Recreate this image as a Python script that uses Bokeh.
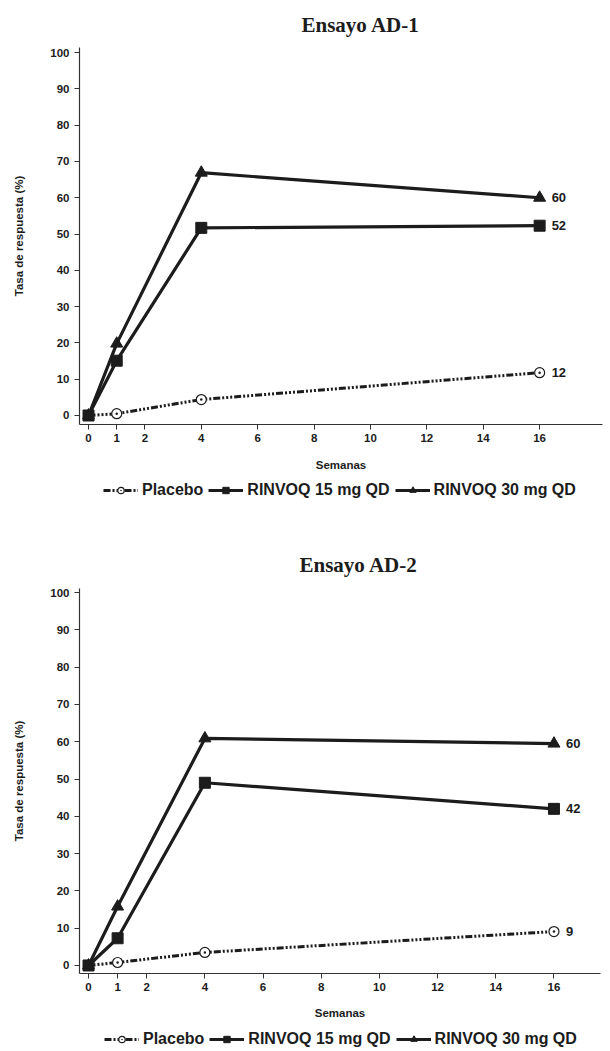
from bokeh.plotting import figure
from bokeh.layouts import column
from bokeh.models import FixedTicker, Legend, LegendItem, Range1d
from bokeh.core.properties import value
from bokeh.embed import file_html
from bokeh.resources import INLINE

weeks = [0, 1, 4, 16]
x_ticks = [0, 1, 2, 4, 6, 8, 10, 12, 14, 16]
y_ticks = [0, 10, 20, 30, 40, 50, 60, 70, 80, 90, 100]

ad1_placebo = [0, 0.5, 4.4, 11.8]
ad1_15mg = [0, 15.1, 51.7, 52.3]
ad1_30mg = [0, 19.8, 66.9, 60.0]
ad1_end_labels = ["12", "52", "60"]

ad2_placebo = [0, 0.8, 3.5, 9.1]
ad2_15mg = [0, 7.3, 49.0, 42.0]
ad2_30mg = [0, 15.8, 60.9, 59.5]
ad2_end_labels = ["9", "42", "60"]

series_names = ["Placebo", "RINVOQ 15 mg QD", "RINVOQ 30 mg QD"]

SANS = "Liberation Sans"
SERIF = "Liberation Serif"
INK = "#1c1c1c"

PLC_STYLE = dict(line_color=INK, line_width=3, line_dash="7 2 2 2 2 2 2 2")
PLC_MARK = dict(marker="circle_dot", size=10, fill_color="white", line_color=INK, line_width=1.2)
R15_STYLE = dict(line_color=INK, line_width=3.2)
R15_MARK = dict(marker="square", size=11, fill_color=INK, line_color=INK)
R30_STYLE = dict(line_color=INK, line_width=3.2)
R30_MARK = dict(marker="triangle", size=12, fill_color=INK, line_color=INK)


def draw_series(p, plc, r15, r30):
    l1 = p.line(weeks, plc, **PLC_STYLE)
    m1 = p.scatter(weeks, plc, **PLC_MARK)
    l2 = p.line(weeks, r15, **R15_STYLE)
    m2 = p.scatter(weeks, r15, **R15_MARK)
    l3 = p.line(weeks, r30, **R30_STYLE)
    m3 = p.scatter(weeks, r30, **R30_MARK)
    return [[l1, m1], [l2, m2], [l3, m3]]


def make(title, plc, r15, r30, end_labels, top, left, fw, fh, bottom, xr, yr,
         title_offset, title_standoff, xlabel_standoff):
    p = figure(frame_width=fw, frame_height=fh, x_range=Range1d(*xr), y_range=Range1d(*yr),
               output_backend="svg", toolbar_location=None,
               min_border_left=left, min_border_right=610 - left - fw,
               min_border_top=top, min_border_bottom=bottom)
    p.outline_line_color = None
    p.grid.grid_line_color = None
    p.title.text = title
    p.title.align = "left"
    p.title.offset = title_offset
    p.title.standoff = title_standoff
    p.title.text_font = SERIF
    p.title.text_font_style = "bold"
    p.title.text_font_size = "21px"
    p.title.text_color = INK

    for ax in (p.xaxis[0], p.yaxis[0]):
        ax.axis_line_color = "#333333"
        ax.axis_line_width = 1.2
        ax.major_tick_line_color = "#333333"
        ax.major_tick_in = 0
        ax.major_tick_out = 5
        ax.minor_tick_line_color = None
        ax.major_label_text_font = SANS
        ax.major_label_text_font_style = "bold"
        ax.major_label_text_font_size = "11.5px"
        ax.major_label_text_color = INK
        ax.axis_label_text_font = SANS
        ax.axis_label_text_font_style = "bold"
        ax.axis_label_text_font_size = "11.5px"
        ax.axis_label_text_color = INK
    p.xaxis.ticker = FixedTicker(ticks=x_ticks)
    p.yaxis.ticker = FixedTicker(ticks=y_ticks)
    p.xaxis.axis_label = "Semanas"
    p.yaxis.axis_label = "Tasa de respuesta (%)"
    p.yaxis.major_label_standoff = 5
    p.xaxis.major_label_standoff = 4
    p.yaxis.axis_label_standoff = 22
    p.xaxis.axis_label_standoff = xlabel_standoff

    draw_series(p, plc, r15, r30)

    p.text(x=[weeks[-1]] * 3, y=[plc[-1], r15[-1], r30[-1]], text=end_labels,
           x_offset=12, text_baseline="middle", text_align="left",
           text_font=value(SANS), text_font_style="bold", text_font_size="13px",
           text_color=INK)
    return p


def legend_strip(height, plc, r15, r30, loc):
    # legend-only strip: the series are drawn outside its visible range
    q = figure(frame_width=610, frame_height=height,
               x_range=Range1d(100, 101), y_range=Range1d(100, 101),
               output_backend="svg", toolbar_location=None,
               x_axis_location=None, y_axis_location=None,
               min_border_left=0, min_border_right=0, min_border_top=0, min_border_bottom=0)
    q.outline_line_color = None
    q.grid.grid_line_color = None
    rs = draw_series(q, plc, r15, r30)
    legend = Legend(items=[LegendItem(label=n, renderers=r) for n, r in zip(series_names, rs)],
                    orientation="horizontal", location=loc)
    legend.label_text_font = SANS
    legend.label_text_font_style = "bold"
    legend.label_text_font_size = "16px"
    legend.label_text_color = INK
    legend.glyph_width = 35
    legend.glyph_height = 16
    legend.label_height = 16
    legend.label_standoff = 4
    legend.spacing = 5
    legend.padding = 3
    legend.margin = 0
    legend.border_line_color = None
    legend.background_fill_alpha = 0
    q.add_layout(legend, "center")
    return q


p1 = make("Ensayo AD-1", ad1_placebo, ad1_15mg, ad1_30mg, ad1_end_labels,
          47, 77, 523, 377, 53, (-0.32, 18.23), (-2.48, 101.4), 222, 21, 14)
g1 = legend_strip(22, ad1_placebo, ad1_15mg, ad1_30mg, (103, 0))
p2 = make("Ensayo AD-2", ad2_placebo, ad2_15mg, ad2_30mg, ad2_end_labels,
          89, 79, 521, 385, 52, (-0.31, 17.6), (-2.15, 101.1), 220, 23, 13)
g2 = legend_strip(26, ad2_placebo, ad2_15mg, ad2_30mg, (104, 3))

layout = column(p1, g1, p2, g2, spacing=0)
open("out.html", "w").write(file_html(layout, INLINE))
